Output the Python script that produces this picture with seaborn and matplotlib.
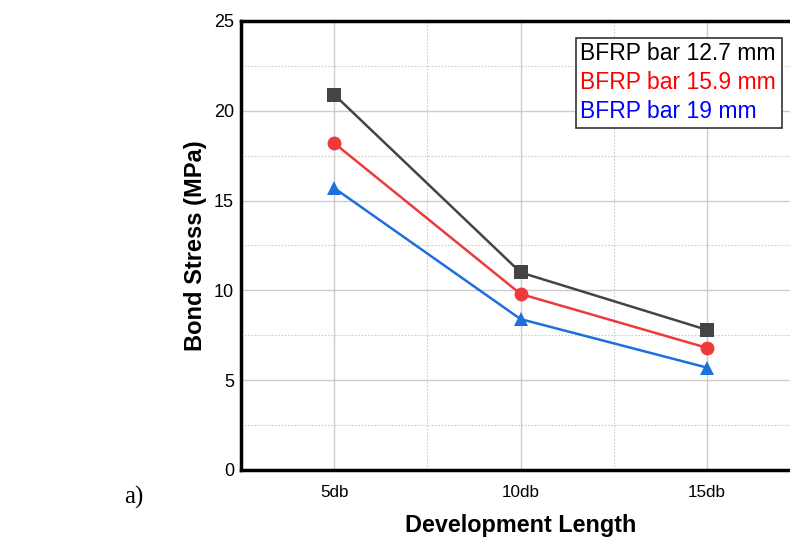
import matplotlib
matplotlib.use("Agg")
import matplotlib.pyplot as plt
import seaborn as sns
import pandas as pd
from matplotlib.ticker import MultipleLocator

categories = ["5db", "10db", "15db"]
series_names = ["BFRP bar 12.7 mm", "BFRP bar 15.9 mm", "BFRP bar 19 mm"]
vals_127 = [20.9, 11.0, 7.8]
vals_159 = [18.2, 9.8, 6.8]
vals_19 = [15.7, 8.4, 5.7]

line_colors = ["#444444", "#ee3a3a", "#1e6fdc"]
text_colors = ["black", "#ff0000", "#0000ff"]
markers = ["s", "o", "^"]

rows = []
for name, vals in zip(series_names, [vals_127, vals_159, vals_19]):
    for c, v in zip(categories, vals):
        rows.append({"Development Length": c, "Bond Stress": v, "Series": name})
df = pd.DataFrame(rows)
df["pos"] = df["Development Length"].map({c: i for i, c in enumerate(categories)})

sns.set_theme(style="white")
plt.rcParams["font.family"] = ["Liberation Sans", "DejaVu Sans"]
plt.rcParams["text.color"] = "black"
plt.rcParams["axes.labelcolor"] = "black"

fig = plt.figure(figsize=(7.9, 5.38), dpi=100)
ax = fig.add_axes([0.305, 0.1264, 0.708, 0.8346])

for name, col, mk in zip(series_names, line_colors, markers):
    sub = df[df["Series"] == name]
    sns.lineplot(data=sub, x="pos", y="Bond Stress", ax=ax, color=col,
                 marker=mk, markersize=10, markeredgewidth=0, linewidth=1.8,
                 legend=False)

ax.set_xlim(-0.5, 2.5)
ax.set_ylim(0, 25)
ax.set_xticks(range(len(categories)))
ax.set_xticklabels(categories)
ax.yaxis.set_major_locator(MultipleLocator(5))
ax.yaxis.set_minor_locator(MultipleLocator(2.5))
ax.xaxis.set_minor_locator(MultipleLocator(0.5))
ax.grid(which="major", color="#cccccc", linewidth=1.0, linestyle="-")
ax.grid(which="minor", color="#cccccc", linewidth=0.8, linestyle=(0, (1.5, 1.5)))
ax.set_axisbelow(True)
ax.tick_params(axis="both", which="both", length=0, colors="black", labelcolor="black")
ax.tick_params(axis="y", labelsize=13, pad=5)
ax.tick_params(axis="x", labelsize=12.3, pad=11)

for s in ["left", "bottom", "top"]:
    ax.spines[s].set_color("black")
    ax.spines[s].set_linewidth(2.5)
ax.spines["right"].set_visible(False)

ax.set_xlabel("Development Length", fontsize=16.8, fontweight="bold", labelpad=10,
              color="black")
ax.set_ylabel("Bond Stress (MPa)", fontsize=17, fontweight="bold", labelpad=5,
              color="black")

for i, (name, tc) in enumerate(zip(series_names, text_colors)):
    fig.text(580 / 790, 1 - (53 + i * 29.5) / 538, name, color=tc, fontsize=16.5,
             va="center", ha="left")
rect = plt.Rectangle((576 / 790, 1 - 128 / 538), 206 / 790, 90 / 538,
                     transform=fig.transFigure, fill=True, facecolor="white",
                     edgecolor="#333333", linewidth=1.2, zorder=0)
fig.patches.append(rect)

fig.text(124 / 790, 1 - 497 / 538, "a)", fontsize=18, family="Liberation Serif",
         ha="left", va="center", color="black")

fig.savefig("out.png", dpi=100)
